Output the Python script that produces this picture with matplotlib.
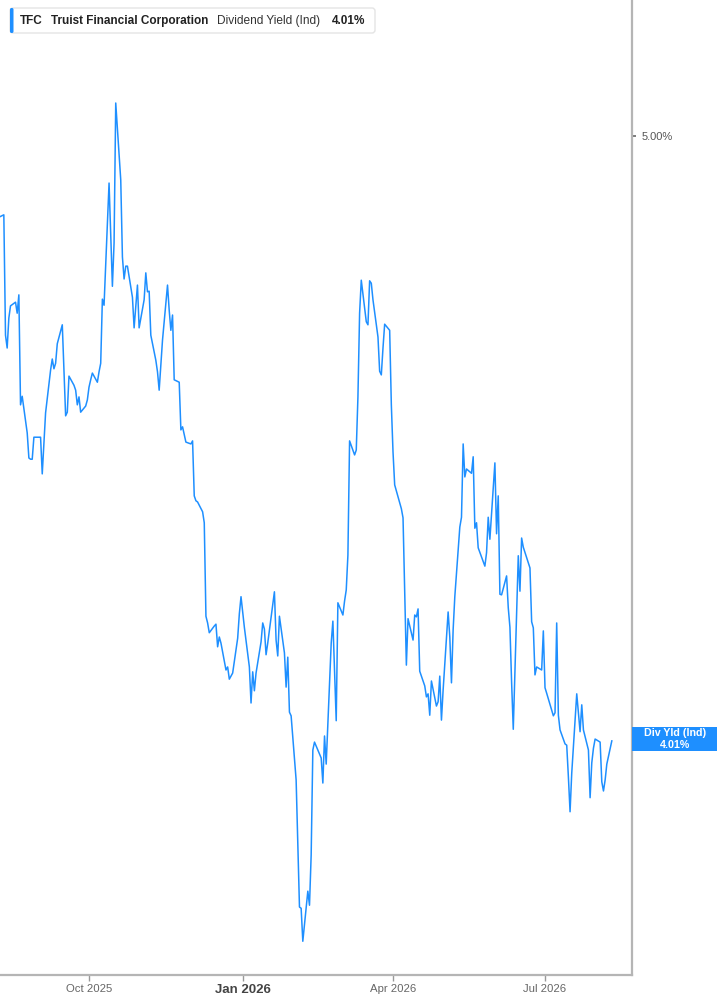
import matplotlib
matplotlib.use("Agg")
import matplotlib.pyplot as plt
import matplotlib.dates as mdates
from matplotlib.patches import FancyBboxPatch, Rectangle
from matplotlib.transforms import IdentityTransform
import pandas as pd


# ======================
# Data
# ======================

TICKER = "TFC"
COMPANY = "Truist Financial Corporation"
METRIC = "Dividend Yield (Ind)"
SHORT_METRIC = "Div Yld (Ind)"

FIRST_DAY = "2025-08-08"

market_holidays = [
    "2025-09-01", "2025-11-27", "2025-12-25", "2026-01-01", "2026-01-19",
    "2026-02-16", "2026-04-03", "2026-05-25", "2026-06-19", "2026-07-03",
]

# daily indicated dividend yield, %
div_yield_pct = [
    4.867, 4.871, 4.674, 4.653, 4.702, 4.722, 4.728, 4.710, 4.740, 4.560,
    4.574, 4.514, 4.473, 4.471, 4.471, 4.507, 4.507, 4.447, 4.498, 4.547,
    4.617, 4.635, 4.619, 4.628, 4.660, 4.691, 4.617, 4.542, 4.548, 4.607,
    4.592, 4.584, 4.560, 4.573, 4.548, 4.558, 4.568, 4.589, 4.601, 4.612,
    4.597, 4.614, 4.628, 4.733, 4.723, 4.923, 4.838, 4.754, 4.825, 5.054,
    4.928, 4.802, 4.766, 4.787, 4.787, 4.736, 4.686, 4.722, 4.756, 4.686,
    4.732, 4.776, 4.745,
    4.746, 4.674, 4.633, 4.614, 4.584, 4.625, 4.666, 4.756, 4.715, 4.682,
    4.707, 4.601, 4.597, 4.519, 4.524, 4.499, 4.496, 4.501, 4.411, 4.403,
    4.401, 4.385, 4.367, 4.214, 4.203, 4.187, 4.198, 4.201, 4.164, 4.180,
    4.170, 4.126, 4.131, 4.111, 4.121, 4.178, 4.218, 4.246, 4.196, 4.131,
    4.072, 4.123, 4.092, 4.121, 4.172, 4.203, 4.193, 4.151, 4.170, 4.254,
    4.175, 4.149, 4.214, 4.154, 4.098, 4.147, 4.057, 4.051,
    3.946, 3.840, 3.738, 3.736, 3.682, 3.764, 3.741, 3.823, 3.995, 4.008,
    3.982, 3.941, 4.018, 3.972, 4.170, 4.206, 4.126, 4.043, 4.236, 4.216,
    4.239, 4.257, 4.314, 4.501, 4.478, 4.486, 4.573, 4.710, 4.764, 4.696,
    4.691, 4.763, 4.759, 4.732, 4.671, 4.615, 4.609, 4.653, 4.692, 4.682,
    4.560, 4.483, 4.429, 4.390, 4.375, 4.257, 4.134, 4.210, 4.175, 4.216,
    4.213, 4.226, 4.124, 4.100, 4.082, 4.087, 4.052, 4.108, 4.067, 4.074,
    4.116,
    4.044, 4.093, 4.221, 4.180, 4.105, 4.192, 4.246, 4.360, 4.376, 4.496,
    4.442, 4.455, 4.448, 4.475, 4.358, 4.367, 4.326, 4.296, 4.318, 4.376,
    4.340, 4.465, 4.349, 4.411, 4.250, 4.249, 4.280, 4.228, 4.196, 4.106,
    4.029, 4.313, 4.255, 4.342, 4.327, 4.293, 4.205, 4.195, 4.118, 4.131,
    4.126, 4.190, 4.097, 4.088, 4.051, 4.056, 4.203, 4.052, 4.028, 4.005,
    4.003, 3.951, 3.894, 3.957, 4.087, 4.056, 4.025, 4.069, 4.028, 3.995,
    3.917, 3.974, 3.998, 4.013, 4.008, 3.943, 3.928, 3.946, 3.972, 4.010,
]

tick_dates = ["2025-10-01", "2026-01-01", "2026-04-01", "2026-07-01"]
tick_labels = ["Oct 2025", "Jan 2026", "Apr 2026", "Jul 2026"]
y_ticks = [4.0, 5.0]

x_range = ["2025-08-08 17:00", "2026-08-22 02:00"]
y_range = [3.6268, 5.2226]


# ======================
# Style
# ======================

BLUE = "#1e8fff"
SPINE = "#b5b5b5"
W, H = 717, 1005

plt.rcParams["font.family"] = ["Liberation Sans", "DejaVu Sans"]

days = pd.bdate_range(
    start=FIRST_DAY,
    periods=len(div_yield_pct),
    freq="C",
    holidays=market_holidays
)


# ======================
# Plot
# ======================

fig = plt.figure(figsize=(W / 100, H / 100), dpi=100)
ax = fig.add_axes([0, 30 / H, 632 / W, 975 / H])

ax.plot(days, div_yield_pct, color=BLUE, lw=1.1)

ax.set_xlim(pd.Timestamp(x_range[0]), pd.Timestamp(x_range[1]))
ax.set_ylim(*y_range)

for side in ["left", "top"]:
    ax.spines[side].set_visible(False)
for side in ["right", "bottom"]:
    ax.spines[side].set_color(SPINE)
    ax.spines[side].set_linewidth(1.6)

ax.yaxis.tick_right()
ax.set_yticks(y_ticks)
ax.set_yticklabels([f"{v:.2f}%" for v in y_ticks])
ax.tick_params(axis="y", length=3, width=1.2, color="#666666",
               pad=4, labelsize=8, labelcolor="#555555")

ax.set_xticks(pd.to_datetime(tick_dates))
ax.set_xticklabels(tick_labels)
ax.tick_params(axis="x", length=4, width=1, color="#999999",
               pad=2.5, labelsize=8.2, labelcolor="#666666")
for lbl in ax.get_xticklabels():
    if lbl.get_text().startswith("Jan"):
        lbl.set_fontweight("bold")
        lbl.set_fontsize(9.5)
        lbl.set_color("#444444")


# ======================
# Header legend
# ======================

px = IdentityTransform()

fig.add_artist(FancyBboxPatch(
    (10, H - 33), 365, 25,
    boxstyle="round,pad=0,rounding_size=3",
    transform=px, fc="white", ec="#e4e4e4", lw=1
))
fig.add_artist(FancyBboxPatch(
    (10, H - 33), 3.5, 25,
    boxstyle="round,pad=0,rounding_size=1.5",
    transform=px, fc=BLUE, ec="none"
))

hy = 1 - 21 / H
fig.text(20 / W, hy, TICKER, fontsize=8.5, fontweight="bold",
         color="#222222", va="center")
fig.text(51 / W, hy, COMPANY, fontsize=8.5, fontweight="bold",
         color="#222222", va="center")
fig.text(217 / W, hy, METRIC, fontsize=8.6,
         color="#333333", va="center")
fig.text(332 / W, hy, f"{div_yield_pct[-1]:.2f}%", fontsize=8.5,
         fontweight="bold", color="#222222", va="center")


# ======================
# Last value flag
# ======================

fig.canvas.draw()
last_y = ax.transData.transform(
    (mdates.date2num(days[-1]), div_yield_pct[-1])
)[1] + 2

fig.add_artist(Rectangle(
    (632, last_y - 12), 85, 24,
    transform=px, fc=BLUE, ec="none"
))
fig.text(675, last_y + 5.5, SHORT_METRIC, transform=px,
         fontsize=7.7, fontweight="bold", color="white",
         ha="center", va="center")
fig.text(675, last_y - 6, f"{div_yield_pct[-1]:.2f}%", transform=px,
         fontsize=7.7, fontweight="bold", color="white",
         ha="center", va="center")

plt.savefig("out.png", dpi=100)
